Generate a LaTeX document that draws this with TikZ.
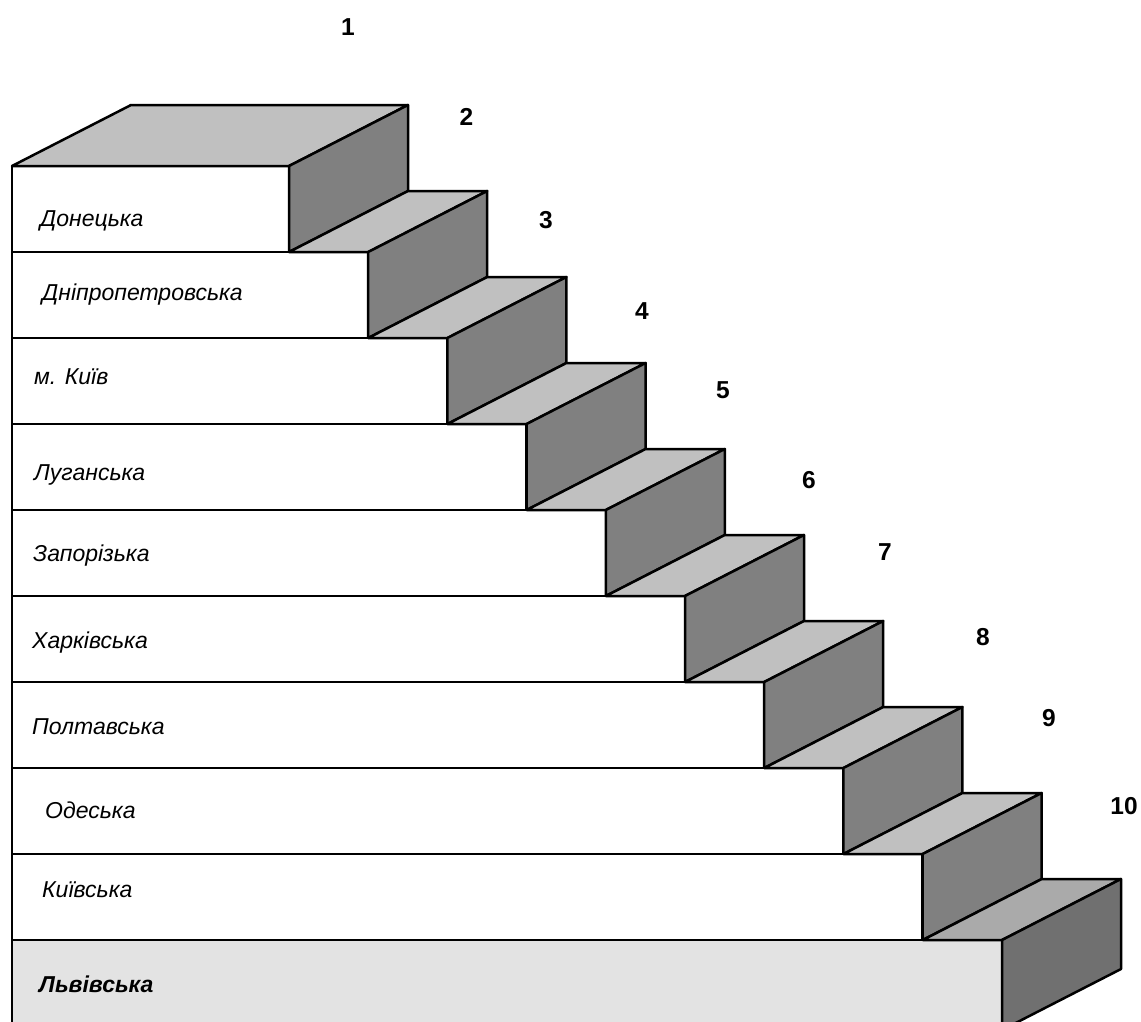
\documentclass[tikz,border=0pt]{standalone}
\usepackage{fontspec}
\setmainfont{Liberation Sans}
\begin{document}
\begin{tikzpicture}[x=1pt,y=-1pt,
  edge/.style={draw=black,line width=2.5pt,line join=round},
  front/.style={edge,fill=white},
  topf/.style={edge,fill=topgray},
  sidef/.style={edge,fill=sidegray},
  lbl/.style={anchor=base west,inner sep=0pt,font=\fontsize{23}{23}\selectfont\itshape},
  num/.style={inner sep=0pt,font=\fontsize{24.5}{24.5}\selectfont\bfseries}]
\definecolor{topgray}{HTML}{C0C0C0}
\definecolor{sidegray}{HTML}{808080}
\definecolor{basefront}{HTML}{E3E3E3}
\definecolor{basetop}{HTML}{AAAAAA}
\definecolor{baseside}{HTML}{707070}
\useasboundingbox (0,0) rectangle (1141,1021);
\clip (0,0) rectangle (1141,1021);
\def\dx{119}\def\dy{61}
\foreach \i in {0,...,8}{
  \pgfmathsetmacro{\t}{166+86.0*\i}
  \pgfmathsetmacro{\b}{166+86.0*(\i+1)}
  \pgfmathsetmacro{\r}{289+79.2*\i}
  \pgfmathsetmacro{\l}{\i==0 ? 12 : 289+79.2*(\i-1)}
  \draw[front] (12,\t) rectangle (\r,\b);
  \draw[topf] (\l,\t) -- (\l+\dx,\t-\dy) -- (\r+\dx,\t-\dy) -- (\r,\t) -- cycle;
  \draw[sidef] (\r,\t) -- (\r+\dx,\t-\dy) -- (\r+\dx,\b-\dy) -- (\r,\b) -- cycle;
}
% base step
\draw[edge,fill=basefront] (12,940) rectangle (1002,1030);
\draw[edge,fill=basetop] (922.8,940) -- (1041.8,879) -- (1121,879) -- (1002,940) -- cycle;
\draw[edge,fill=baseside] (1002,940) -- (1121,879) -- (1121,969) -- (1002,1030) -- cycle;
% labels
\node[lbl] (l1) at (40,226) {Донецька};
\node[lbl] (l2) at (42,300.7) {Дніпропетровська};
\node[lbl] (l3) at (34,384) {м. Київ};
\node[lbl] (l4) at (34,480) {Луганська};
\node[lbl] (l5) at (33,561.7) {Запорізька};
\node[lbl] (l6) at (32,648) {Харківська};
\node[lbl] (l7) at (32,734) {Полтавська};
\node[lbl] (l8) at (45,818.3) {Одеська};
\node[lbl] (l9) at (42,897) {Київська};
\node[lbl,font=\fontsize{23}{23}\selectfont\bfseries\itshape] (l10) at (39,992) {Львівська};
% numbers
\node[num] (n1) at (348,27) {1};
\node[num] (n2) at (466.5,116.5) {2};
\node[num] (n3) at (546,220) {3};
\node[num] (n4) at (642,311) {4};
\node[num] (n5) at (723,390) {5};
\node[num] (n6) at (809,480) {6};
\node[num] (n7) at (885,552) {7};
\node[num] (n8) at (983,637) {8};
\node[num] (n9) at (1049,718) {9};
\node[num] (n10) at (1124,806) {10};
\end{tikzpicture}
\end{document}
